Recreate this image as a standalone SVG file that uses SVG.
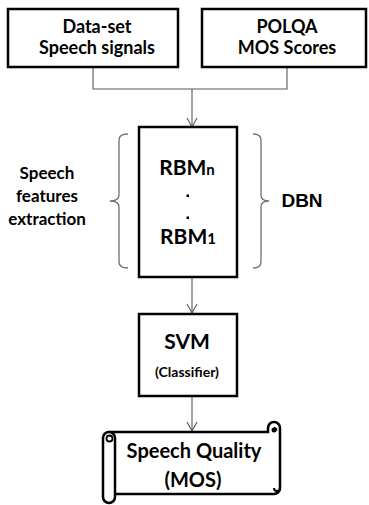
<svg xmlns="http://www.w3.org/2000/svg" width="369" height="505" viewBox="0 0 369 505">
<defs>
<style>
.box{fill:#fff;stroke:#000;stroke-width:2.5}
.conn{fill:none;stroke:#595959;stroke-width:1.1}
.brace{fill:none;stroke:#707070;stroke-width:1.3}
.t{font-family:Lato,"Noto Sans",sans-serif;font-weight:bold;fill:#000;text-anchor:middle}
.a{font-family:"Liberation Sans",Arial,sans-serif;font-weight:bold;fill:#000;text-anchor:middle}
</style>
<marker id="arr" viewBox="0 0 12 12" refX="10" refY="6" markerWidth="12" markerHeight="12" markerUnits="userSpaceOnUse" orient="auto">
<path d="M1,1 L10,6 L1,11" fill="none" stroke="#595959" stroke-width="1.1"/>
</marker>
</defs>
<rect width="369" height="505" fill="#fff"/>
<g id="connectors">
<path class="conn" d="M93,67 V89 H287 V67"/>
<path class="conn" d="M192,89 V127" marker-end="url(#arr)"/>
<path class="conn" d="M192,277 V313" marker-end="url(#arr)"/>
<path class="conn" d="M192,396 V431" marker-end="url(#arr)"/>
</g>
<g id="dataset">
<rect class="box" x="8" y="9" width="170" height="58"/>
<text class="t" x="97" y="33" font-size="18">Data-set</text>
<text class="t" x="97" y="54" font-size="18">Speech signals</text>
</g>
<g id="polqa">
<rect class="box" x="202" y="9" width="164" height="58"/>
<text class="t" x="287" y="33" font-size="18">POLQA</text>
<text class="t" x="287" y="54" font-size="18">MOS Scores</text>
</g>
<g id="dbn">
<rect class="box" x="139" y="127" width="98" height="150"/>
<text class="t" x="187" y="175" font-size="21">RBM<tspan font-size="15">n</tspan></text>
<rect x="186.5" y="194.5" width="2.5" height="2.5" fill="#000"/>
<rect x="186.5" y="216.5" width="2.5" height="2.5" fill="#000"/>
<text class="t" x="188" y="244" font-size="21">RBM<tspan font-size="15">1</tspan></text>
</g>
<g id="brace-left">
<path class="brace" d="M128,134 Q119,134 119,140 V195 Q119,201 110,201 Q119,201 119,207 V262 Q119,268 128,268"/>
<text class="t" x="47" y="179" font-size="17">Speech</text>
<text class="t" x="47" y="202" font-size="17">features</text>
<text class="t" x="47" y="225" font-size="17">extraction</text>
</g>
<g id="brace-right">
<path class="brace" d="M253,134 Q261,134 261,140 V195 Q261,201 269,201 Q261,201 261,207 V262 Q261,268 253,268"/>
<text class="a" x="302" y="207" font-size="19">DBN</text>
</g>
<g id="svm">
<rect class="box" x="139" y="314" width="98" height="82"/>
<text class="t" x="187" y="349" font-size="21">SVM</text>
<text class="t" x="187" y="377" font-size="14">(Classifier)</text>
</g>
<g id="quality">
<path class="box" d="M109,432 H268 V428 A6,6 0 0 1 280,428 V488 A6,6 0 0 1 274,494 H115"/>
<path d="M274,428 A2.5,2.5 0 0 1 276.5,430.5" fill="none" stroke="#000" stroke-width="2"/>
<circle cx="274" cy="430" r="2.5" fill="#000"/>
<path d="M280,488 A3,3 0 0 1 274,488" fill="none" stroke="#000" stroke-width="2"/>
<rect class="box" x="103" y="432" width="12" height="71" rx="6"/>
<circle cx="109.5" cy="438.5" r="3" fill="none" stroke="#000" stroke-width="1.8"/>
<text class="t" x="194" y="458" font-size="20">Speech Quality</text>
<text class="t" x="193" y="487" font-size="20">(MOS)</text>
</g>
</svg>
